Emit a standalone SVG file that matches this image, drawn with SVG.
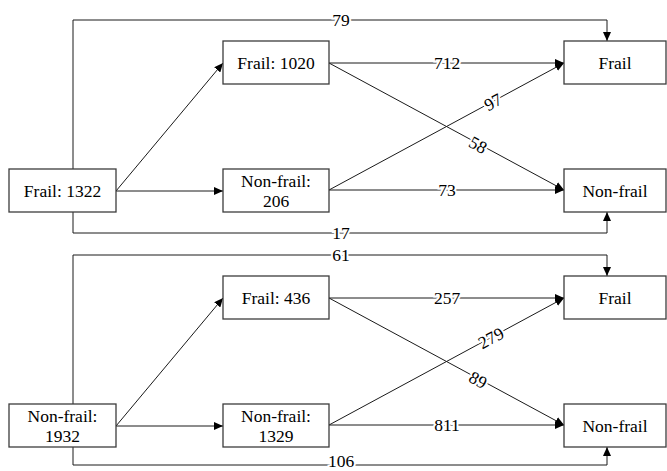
<svg xmlns="http://www.w3.org/2000/svg" width="667" height="471" viewBox="0 0 667 471" font-family="Liberation Serif, DejaVu Serif, serif">
<style>
.box{fill:#fff;stroke:#3c3c3c;stroke-width:1.3}
.t,.lbl{font-size:17.5px;fill:#000;text-anchor:middle}
.lbl{stroke:#fff;stroke-width:4;paint-order:stroke}
.c{fill:none;stroke:#1a1a1a;stroke-width:1}
</style>
<defs>
<marker id="ah" markerUnits="userSpaceOnUse" markerWidth="10" markerHeight="8" refX="9" refY="4" orient="auto">
<path d="M0,0 L9,4 L0,8 z" fill="#000"/>
</marker>
</defs>
<rect width="667" height="471" fill="#fff"/>
<g id="connectors">
<path class="c" d="M73,169 V20 H607 V41" marker-end="url(#ah)"/>
<path class="c" d="M73,212 V233 H607 V212" marker-end="url(#ah)"/>
<path class="c" d="M116,191 L223,63" marker-end="url(#ah)"/>
<path class="c" d="M116,191 H223" marker-end="url(#ah)"/>
<path class="c" d="M329,63 H564" marker-end="url(#ah)"/>
<path class="c" d="M329,63 L564,190" marker-end="url(#ah)"/>
<path class="c" d="M329,190 L564,63" marker-end="url(#ah)"/>
<path class="c" d="M329,190 H564" marker-end="url(#ah)"/>
<text class="lbl" x="341" y="26">79</text>
<text class="lbl" x="341" y="239">17</text>
<text class="lbl" x="447" y="69">712</text>
<text class="lbl" x="447" y="196">73</text>
<text class="lbl" transform="translate(493,102) rotate(-28.4)" x="0" y="6">97</text>
<text class="lbl" transform="translate(478,145) rotate(28.4)" x="0" y="6">58</text>
<path class="c" d="M73,404 V255 H607 V276" marker-end="url(#ah)"/>
<path class="c" d="M73,447 V465 H607 V447" marker-end="url(#ah)"/>
<path class="c" d="M116,426 L223,298" marker-end="url(#ah)"/>
<path class="c" d="M116,426 H223" marker-end="url(#ah)"/>
<path class="c" d="M329,298 H564" marker-end="url(#ah)"/>
<path class="c" d="M329,298 L564,425" marker-end="url(#ah)"/>
<path class="c" d="M329,425 L564,298" marker-end="url(#ah)"/>
<path class="c" d="M329,425 H564" marker-end="url(#ah)"/>
<text class="lbl" x="341" y="261">61</text>
<text class="lbl" x="341" y="467">106</text>
<text class="lbl" x="447" y="304">257</text>
<text class="lbl" x="447" y="431">811</text>
<text class="lbl" transform="translate(491,338) rotate(-28.4)" x="0" y="6">279</text>
<text class="lbl" transform="translate(478,380) rotate(28.4)" x="0" y="6">89</text>
</g>
<g id="n-frail1322"><rect class="box" x="9" y="169" width="107" height="43"/><text class="t" x="62.5" y="197">Frail: 1322</text></g>
<g id="n-frail1020"><rect class="box" x="223" y="41" width="106" height="43"/><text class="t" x="276" y="69">Frail: 1020</text></g>
<g id="n-nonfrail206"><rect class="box" x="223" y="169" width="106" height="43"/><text class="t" x="276" y="186.5">Non-frail:</text><text class="t" x="276" y="206.5">206</text></g>
<g id="n-frail-top"><rect class="box" x="564" y="41" width="102" height="43"/><text class="t" x="615" y="69">Frail</text></g>
<g id="n-nonfrail-top"><rect class="box" x="564" y="169" width="102" height="43"/><text class="t" x="615" y="197">Non-frail</text></g>
<g id="n-nonfrail1932"><rect class="box" x="9" y="404" width="107" height="43"/><text class="t" x="62.5" y="421.5">Non-frail:</text><text class="t" x="62.5" y="441.5">1932</text></g>
<g id="n-frail436"><rect class="box" x="223" y="276" width="106" height="43"/><text class="t" x="276" y="304">Frail: 436</text></g>
<g id="n-nonfrail1329"><rect class="box" x="223" y="404" width="106" height="43"/><text class="t" x="276" y="421.5">Non-frail:</text><text class="t" x="276" y="441.5">1329</text></g>
<g id="n-frail-bot"><rect class="box" x="564" y="276" width="102" height="43"/><text class="t" x="615" y="304">Frail</text></g>
<g id="n-nonfrail-bot"><rect class="box" x="564" y="404" width="102" height="43"/><text class="t" x="615" y="432">Non-frail</text></g>
</svg>
